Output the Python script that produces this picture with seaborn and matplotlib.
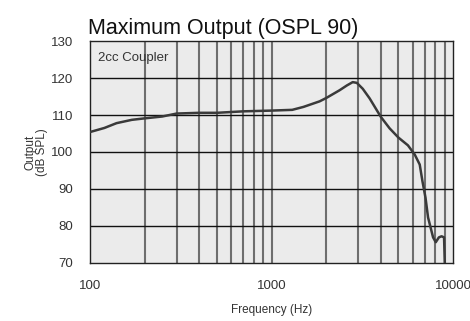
import matplotlib
matplotlib.use("Agg")
import matplotlib.pyplot as plt
import seaborn as sns
import pandas as pd
from matplotlib.ticker import FixedLocator, NullFormatter

freq_hz = [100, 120, 140, 170, 200, 250, 300, 400, 500, 700, 1000, 1300, 1500,
           1840, 2000, 2370, 2600, 2800, 2950, 3180, 3470, 4000, 4470, 5000,
           5640, 6150, 6550, 6780, 7050, 7280, 7760, 8030, 8350, 8640, 8920, 9000]
output_db = [105.4, 106.5, 107.8, 108.7, 109.1, 109.6, 110.4, 110.6, 110.6, 111.0,
             111.2, 111.4, 112.2, 113.7, 114.6, 116.7, 118.0, 118.9, 118.7, 117.1,
             114.5, 109.5, 106.4, 103.9, 101.8, 99.3, 96.6, 92.1, 87.6, 82.3,
             76.9, 75.6, 76.9, 77.2, 76.9, 70.0]
y_ticks = [70, 80, 90, 100, 110, 120, 130]
x_ticks = [100, 1000, 10000]
x_tick_labels = ["100", "1000", "10000"]
minor_x = [200, 300, 400, 500, 600, 700, 800, 900,
           2000, 3000, 4000, 5000, 6000, 7000, 8000, 9000]

sns.set_style("white")
plt.rcParams['font.family'] = ['Liberation Sans', 'DejaVu Sans']

df = pd.DataFrame({"freq": freq_hz, "out": output_db})

fig, ax = plt.subplots(figsize=(4.7, 3.21), dpi=100)
fig.subplots_adjust(left=0.1915, right=0.964, top=0.872, bottom=0.181)
ax.set_facecolor("#ebebeb")

ax.set_xscale("log")
ax.set_xlim(100, 10000)
ax.set_ylim(70, 130)

for v in minor_x + [1000]:
    ax.axvline(v, color="#6e6e6e", lw=1.5, zorder=1)
for v in y_ticks[1:-1]:
    ax.axhline(v, color="#111111", lw=1.0, zorder=1)

sns.lineplot(data=df, x="freq", y="out", ax=ax, color="#3a3a3a", lw=1.8, zorder=3)

ax.xaxis.set_major_locator(FixedLocator(x_ticks))
ax.set_xticklabels(x_tick_labels)
ax.xaxis.set_minor_locator(FixedLocator(minor_x))
ax.xaxis.set_minor_formatter(NullFormatter())
ax.set_yticks(y_ticks)
ax.tick_params(axis="both", which="both", length=0, labelsize=9.5, colors="#333333")
ax.tick_params(axis="x", pad=12)
ax.tick_params(axis="y", pad=12)

for s in ax.spines.values():
    s.set_color("#222222")
    s.set_linewidth(1.0)

ax.set_xlabel("Frequency (Hz)", fontsize=8.5, color="#333333", labelpad=9)
ax.set_ylabel("Output\n(dB SPL)", fontsize=8.5, color="#333333", labelpad=2, linespacing=1.0)
ax.set_title("Maximum Output (OSPL 90)", loc="left", fontsize=15.5, color="#111111", pad=5, x=-0.005)
ax.text(0.022, 0.95, "2cc Coupler", transform=ax.transAxes, fontsize=9.5,
        color="#333333", va="top", ha="left")

fig.savefig("out.png", dpi=100)
